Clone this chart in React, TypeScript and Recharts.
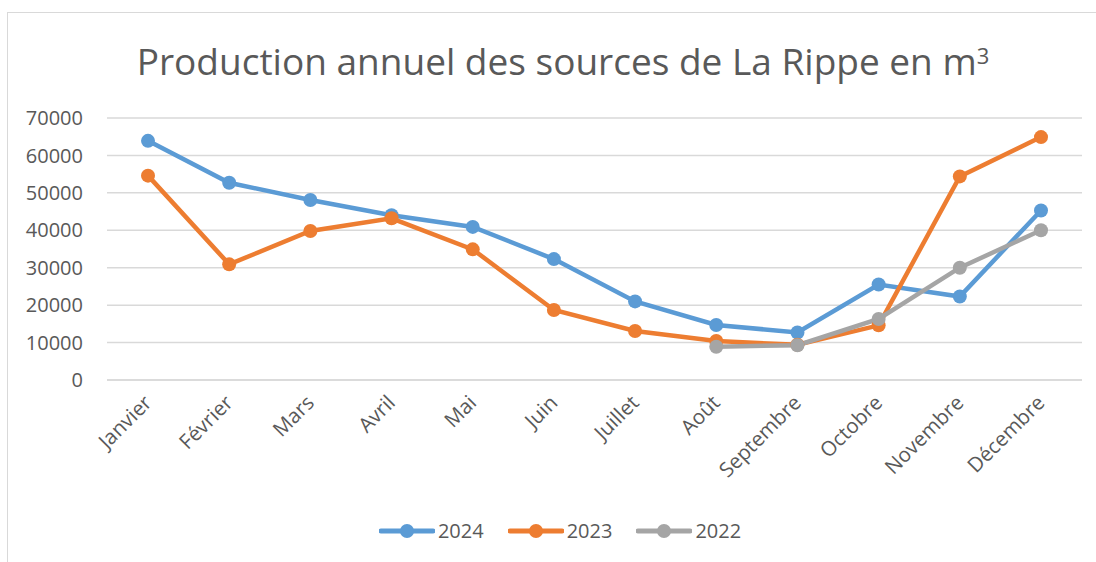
import * as React from "react";

import { CartesianGrid, Line, LineChart, XAxis, YAxis } from "recharts";

const months = [
  "Janvier",
  "Février",
  "Mars",
  "Avril",
  "Mai",
  "Juin",
  "Juillet",
  "Août",
  "Septembre",
  "Octobre",
  "Novembre",
  "Décembre",
];

const prod2024 = [63900, 52700, 48100, 44000, 40900, 32300, 21000, 14700, 12700, 25500, 22300, 45300];
const prod2023 = [54600, 30900, 39800, 43200, 34900, 18700, 13100, 10400, 9400, 14600, 54400, 64900];
const prod2022 = [null, null, null, null, null, null, null, 8900, 9300, 16300, 30000, 40000];

const yTicks = [0, 10000, 20000, 30000, 40000, 50000, 60000, 70000];

const series = [
  { key: "2024", color: "#5B9BD5" },
  { key: "2023", color: "#ED7D31" },
  { key: "2022", color: "#A5A5A5" },
];

const FONT = "'Open Sans', sans-serif";
const TEXT = "#595959";

const data = months.map((m, i) => ({
  month: m,
  "2024": prod2024[i],
  "2023": prod2023[i],
  "2022": prod2022[i],
}));

// rotated month labels, end of text sits under the category
const MonthTick = (props: any) => {
  const { x, y, payload } = props;
  const ax = x + 5;
  const ay = y + 4;
  return (
    <text
      x={ax}
      y={ay}
      transform={`rotate(-45, ${ax}, ${ay})`}
      textAnchor="end"
      fill={TEXT}
      fontSize={20.5}
      fontFamily={FONT}
    >
      {payload.value}
    </text>
  );
};

const LegendBox = () => (
  <div
    style={{
      display: "flex",
      justifyContent: "center",
      gap: 24,
      fontFamily: FONT,
      fontSize: 20,
      color: TEXT,
    }}
  >
    {series.map((s) => (
      <div key={s.key} style={{ display: "flex", alignItems: "center", gap: 3 }}>
        <svg width={56} height={16}>
          <line x1={2} y1={8} x2={54} y2={8} stroke={s.color} strokeWidth={5} strokeLinecap="round" />
          <circle cx={28} cy={8} r={7} fill={s.color} />
        </svg>
        <span>{s.key}</span>
      </div>
    ))}
  </div>
);

const App = () => {
  return (
    <div
      style={{
        position: "absolute",
        left: 0,
        top: 0,
        width: 1096,
        height: 562,
        overflow: "hidden",
        background: "#fff",
      }}
    >
      <div
        style={{
          position: "absolute",
          left: 7,
          top: 12,
          width: 1200,
          height: 700,
          border: "1.5px solid #D9D9D9",
        }}
      />
      <div
        style={{
          position: "absolute",
          left: 0,
          top: 35,
          width: 1126,
          textAlign: "center",
          fontFamily: FONT,
          fontSize: 37,
          color: TEXT,
        }}
      >
        Production annuel des sources de La Rippe en m
        <sup style={{ fontSize: 22, verticalAlign: "top", position: "relative", top: 5 }}>3</sup>
      </div>
      <div style={{ position: "absolute", left: 0, top: 0 }}>
        <LineChart
          width={1096}
          height={562}
          data={data}
          margin={{ top: 118, right: 14, left: 0, bottom: 152 }}
        >
          <CartesianGrid vertical={false} stroke="#D9D9D9" strokeWidth={1.5} />
          <XAxis
            dataKey="month"
            interval={0}
            tickLine={false}
            tickSize={0}
            tickMargin={20}
            axisLine={{ stroke: "#D9D9D9", strokeWidth: 1.5 }}
            padding={{ left: 41, right: 41 }}
            tick={<MonthTick />}
            height={30}
          />
          <YAxis
            width={107}
            domain={[0, 70000]}
            ticks={yTicks}
            interval={0}
            axisLine={false}
            tickLine={false}
            tickSize={0}
            tickMargin={24}
            tick={{ fill: TEXT, fontSize: 20, fontFamily: FONT }}
          />
          {series.map((s) => (
            <Line
              key={s.key}
              type="linear"
              dataKey={s.key}
              stroke={s.color}
              strokeWidth={4.5}
              dot={{ r: 7, fill: s.color, stroke: "none" }}
              activeDot={false}
              isAnimationActive={false}
            />
          ))}
        </LineChart>
      </div>
      <div style={{ position: "absolute", left: 0, top: 517, width: 1120 }}>
        <LegendBox />
      </div>
    </div>
  );
};

export default App;
